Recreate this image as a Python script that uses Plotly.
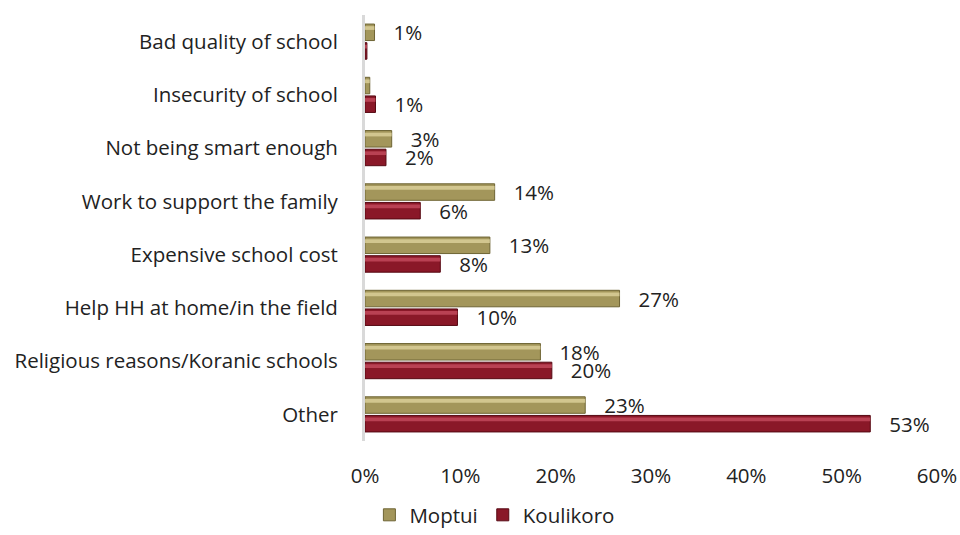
import plotly.graph_objects as go

# Reasons for not attending school, share of respondents by region
categories = [
    "Bad quality of school",
    "Insecurity of school",
    "Not being smart enough",
    "Work to support the family",
    "Expensive school cost",
    "Help HH at home/in the field",
    "Religious reasons/Koranic schools",
    "Other",
]
moptui = [1.0, 0.5, 2.8, 13.6, 13.1, 26.7, 18.4, 23.1]
koulikoro = [0.2, 1.1, 2.2, 5.8, 7.9, 9.7, 19.6, 53.0]
# which bars carry a value label
moptui_show = [True, False, True, True, True, True, True, True]
koulikoro_show = [False, True, True, True, True, True, True, True]
x_ticks = [0, 10, 20, 30, 40, 50, 60]

FONT = "Open Sans"
SIZE = 20.5
PAD = "   "


def labels(values, show):
    return [f"{PAD}{round(v)}%" if s else "" for v, s in zip(values, show)]


series = [
    dict(name="Moptui", values=moptui, show=moptui_show, offset=-0.33,
         base="#a3965b", edge="#6e6434", light="#ddd29c"),
    dict(name="Koulikoro", values=koulikoro, show=koulikoro_show, offset=0.02,
         base="#8a1828", edge="#560913", light="#c44c5e"),
]

fig = go.Figure()
for s in series:
    fig.add_trace(go.Bar(
        y=categories, x=s["values"], orientation="h", name=s["name"],
        offset=s["offset"], width=0.31,
        marker=dict(color=s["base"], line=dict(color=s["edge"], width=1)),
        text=labels(s["values"], s["show"]), textposition="outside",
        constraintext="none",
        textfont=dict(family=FONT, size=SIZE, color="#222222"),
        cliponaxis=False,
    ))
    # bevel highlight along the upper part of each bar
    fig.add_trace(go.Bar(
        y=categories, x=s["values"], orientation="h", name=s["name"],
        offset=s["offset"] + 0.04, width=0.07,
        marker=dict(color=s["light"], line=dict(width=0), opacity=0.8),
        showlegend=False, hoverinfo="skip",
    ))

fig.update_layout(
    barmode="overlay",
    width=960, height=535,
    margin=dict(l=365, r=23, t=15, b=94),
    paper_bgcolor="white", plot_bgcolor="white",
    font=dict(family=FONT, size=SIZE, color="#222222"),
    showlegend=True,
    legend=dict(orientation="h", xref="container", yref="container",
                x=0.515, xanchor="center", y=0.0, yanchor="bottom",
                font=dict(family=FONT, size=SIZE), itemwidth=30,
                traceorder="normal"),
    xaxis=dict(range=[0, 60], tickvals=x_ticks,
               ticktext=[f"{t}%" for t in x_ticks],
               showgrid=False, zeroline=False, showline=False,
               ticklabelstandoff=20, automargin=False),
    yaxis=dict(autorange="reversed", showgrid=False, zeroline=False,
               showline=True, linecolor="#d9d9d9", linewidth=3,
               ticks="outside", ticklen=20, tickcolor="rgba(0,0,0,0)",
               automargin=False),
)

fig.write_html("out.html")
